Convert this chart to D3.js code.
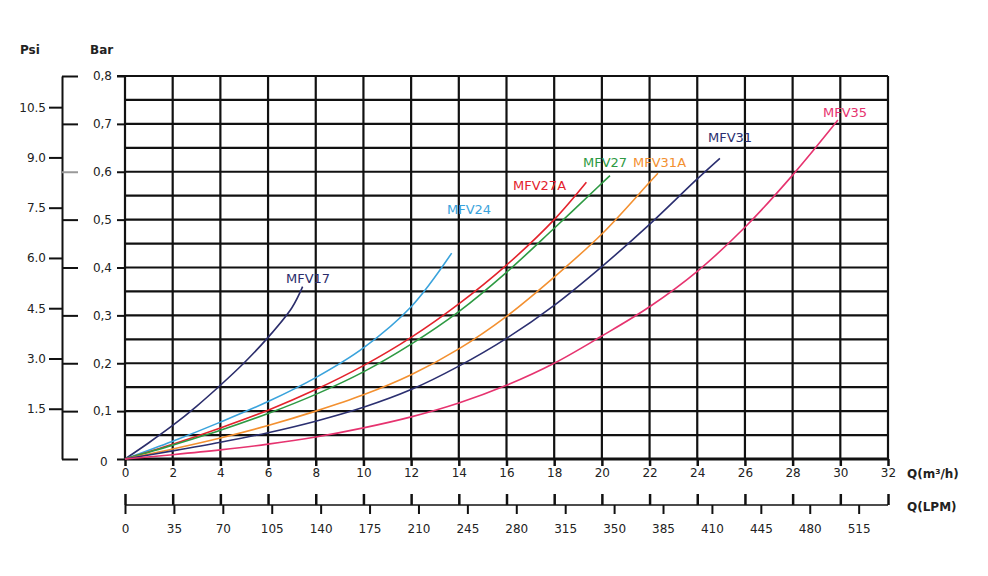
<html>
<head>
	<meta charset='utf-8' />
	<title>Pressure loss curves</title>
	<script src="https://cdn.jsdelivr.net/npm/d3@7/dist/d3.min.js"></script>
	<style>
	body { margin: 0; background: #ffffff; }
	text { font-family: "DejaVu Sans", Verdana, sans-serif; font-size: 12px; fill: #222; }
	.grid line { stroke: #111; stroke-width: 2.2; }
	.axis path, .axis line { stroke: #111; }
	</style>
</head>
<body>
<script>

	// flow, m3/h ticks and LPM ticks
	var flowTicks = d3.range(0, 33, 2);
	var lpmTicks = d3.range(0, 526, 35);
	var lpmLabels = ["0","35","70","105","140","175","210","245","280","315","350","385","410","445","480","515"];
	var barTicks = [0, 0.1, 0.2, 0.3, 0.4, 0.5, 0.6, 0.7, 0.8];
	var barGrid = d3.range(0, 0.801, 0.05);
	var psiTicks = [1.5, 3.0, 4.5, 6.0, 7.5, 9.0, 10.5];

	// curves: [Q m3/h, bar]
	var mfv17 = [[0,0],[1,0.034],[2,0.07],[3,0.11],[4,0.154],[5,0.201],[6,0.254],[7,0.316],[7.45,0.36]];
	var mfv24 = [[0,0],[2,0.037],[4,0.077],[6,0.12],[8,0.17],[10,0.232],[12,0.318],[13.7,0.43]];
	var mfv27a = [[0,0],[2,0.031],[4,0.065],[6,0.102],[8,0.145],[10,0.195],[12,0.254],[14,0.324],[16,0.405],[18,0.5],[19.35,0.578]];
	var mfv27 = [[0,0],[2,0.029],[4,0.06],[6,0.095],[8,0.135],[10,0.182],[12,0.24],[14,0.308],[16,0.39],[18,0.482],[20,0.576],[20.34,0.592]];
	var mfv31a = [[0,0],[2,0.021],[4,0.044],[6,0.07],[8,0.1],[10,0.134],[12,0.176],[14,0.23],[16,0.298],[18,0.38],[20,0.47],[22,0.578],[22.35,0.597]];
	var mfv31 = [[0,0],[2,0.017],[4,0.035],[6,0.055],[8,0.079],[10,0.108],[12,0.145],[14,0.194],[16,0.252],[18,0.321],[20,0.402],[22,0.49],[24,0.585],[24.95,0.628]];
	var mfv35 = [[0,0],[2,0.009],[4,0.019],[6,0.031],[8,0.046],[10,0.065],[12,0.088],[14,0.117],[16,0.154],[18,0.2],[20,0.257],[22,0.318],[24,0.392],[26,0.484],[28,0.593],[29.9,0.708]];

	var series = [
		{name:"MFV17", data:mfv17, color:"#2b2d6b", lx:286, ly:283},
		{name:"MFV24", data:mfv24, color:"#3aa3dc", lx:447, ly:214},
		{name:"MFV27A", data:mfv27a, color:"#e3232c", lx:513, ly:190},
		{name:"MFV27", data:mfv27, color:"#2e9a43", lx:583, ly:167},
		{name:"MFV31A", data:mfv31a, color:"#f39030", lx:633, ly:167},
		{name:"MFV31", data:mfv31, color:"#2b2f70", lx:708, ly:142},
		{name:"MFV35", data:mfv35, color:"#e6336f", lx:823, ly:117}
	];

	var svg = d3.select("body").append("svg")
		.attr("width", 988).attr("height", 576);

	var xScale = d3.scaleLinear().domain([0,32]).range([125,888]);
	var yScale = d3.scaleLinear().domain([0,0.8]).range([459,76]);
	var psiScale = d3.scaleLinear().domain([0,11.43]).range([459,76]);
	var lpmScale = d3.scaleLinear().domain([0,546]).range([125,888]);

	// grid
	var grid = svg.append("g").attr("class","grid");
	grid.selectAll(".h").data(barGrid).enter().append("line")
		.attr("x1", d => d >= 0.799 ? 117 : xScale(0))
		.attr("x2", xScale(32))
		.attr("y1", d => yScale(d)).attr("y2", d => yScale(d));
	grid.selectAll(".v").data(flowTicks).enter().append("line")
		.attr("x1", d => xScale(d)).attr("x2", d => xScale(d))
		.attr("y1", yScale(0.8)).attr("y2", yScale(0));
	grid.append("line")
		.attr("x1", xScale(0)).attr("x2", xScale(32))
		.attr("y1", yScale(0)).attr("y2", yScale(0))
		.style("stroke-width", 3);

	// bottom m3/h axis
	var xAxis = svg.append("g").attr("class","axis")
		.attr("transform","translate(0,459)")
		.call(d3.axisBottom(xScale).tickValues(flowTicks).tickSize(7).tickSizeOuter(0).tickPadding(2).tickFormat(d3.format("d")));
	xAxis.select(".domain").remove();
	xAxis.selectAll("line").attr("stroke-width",2.5);
	xAxis.selectAll("text").style("font-size","12px");

	svg.append("text").attr("x",907).attr("y",478).text("Q(m³/h)").style("font-weight","bold");

	// bar axis
	var barAxis = svg.append("g").attr("class","axis")
		.attr("transform","translate(125,0)")
		.call(d3.axisLeft(yScale).tickValues(barTicks).tickSize(8).tickSizeOuter(0).tickPadding(5)
			.tickFormat(d => d === 0 ? "0" : d3.format(".1f")(d).replace(".", ",")));
	barAxis.select(".domain").remove();
	barAxis.selectAll("line").attr("stroke-width",2);
	barAxis.selectAll("text").style("font-size","12px");
	barAxis.selectAll(".tick").filter(d => d === 0).select("text")
		.attr("x", -25).attr("text-anchor","start").attr("dy","0.5em");

	// psi axis
	var psiAxis = svg.append("g").attr("class","axis")
		.attr("transform","translate(62,0)")
		.call(d3.axisLeft(psiScale).tickValues(psiTicks).tickSize(13).tickSizeOuter(0).tickPadding(3).tickFormat(d3.format(".1f")));
	psiAxis.select(".domain").attr("stroke-width",2);
	psiAxis.selectAll("line").attr("stroke-width",2);
	psiAxis.selectAll("text").style("font-size","12px");

	var psiBar = svg.append("g").attr("class","axis")
		.attr("transform","translate(62,0)")
		.call(d3.axisRight(yScale).tickValues(barTicks).tickSize(16).tickSizeOuter(0).tickFormat(""));
	psiBar.select(".domain").remove();
	psiBar.selectAll("line").attr("stroke-width",2)
		.style("stroke", d => d === 0.6 ? "#999" : "#111");

	svg.append("text").attr("x",20).attr("y",54).text("Psi").style("font-weight","bold");
	svg.append("text").attr("x",90).attr("y",54).text("Bar").style("font-weight","bold");

	// LPM axis
	var lpm = svg.append("g").attr("class","axis")
		.attr("transform","translate(0,505)")
		.call(d3.axisBottom(lpmScale).tickValues(lpmTicks).tickSize(9).tickSizeOuter(0).tickPadding(10)
			.tickFormat((d,i) => lpmLabels[i]));
	lpm.select(".domain").attr("d","M125,0H888").attr("stroke-width",1.5);
	lpm.selectAll("line").attr("stroke-width",2);
	lpm.selectAll("text").style("font-size","12px");

	var lpmUp = svg.append("g").attr("class","axis")
		.attr("transform","translate(0,505)")
		.call(d3.axisTop(xScale).tickValues(flowTicks).tickSize(11).tickSizeOuter(0).tickFormat(""));
	lpmUp.select(".domain").remove();
	lpmUp.selectAll("line").attr("stroke-width",2.5);

	svg.append("text").attr("x",907).attr("y",511).text("Q(LPM)").style("font-weight","bold");

	// curves
	var line = d3.line()
		.x(d => xScale(d[0]))
		.y(d => yScale(d[1]))
		.curve(d3.curveCatmullRom.alpha(0.5));

	series.forEach(function(s) {
		svg.append("path")
			.datum(s.data)
			.attr("fill","none")
			.attr("stroke", s.color)
			.attr("stroke-width", 1.6)
			.attr("d", line);
		svg.append("text")
			.attr("x", s.lx).attr("y", s.ly)
			.style("fill", s.color)
			.style("font-size","13px")
			.text(s.name);
	});

</script>
</body>
</html>
